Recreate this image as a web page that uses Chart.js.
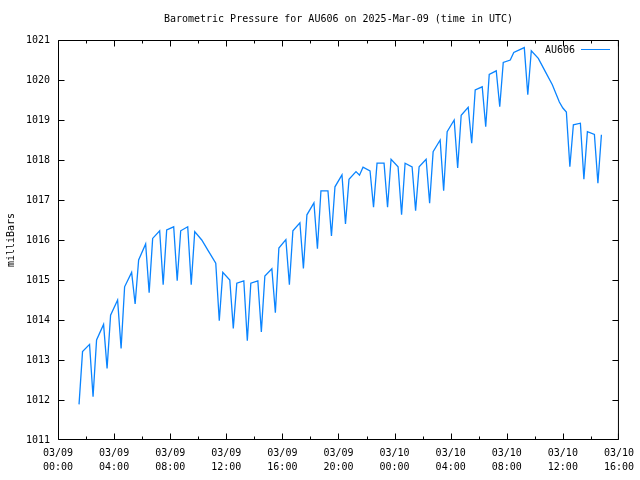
<!DOCTYPE html>
<html>
<head>
<meta charset="utf-8">
<title>Barometric Pressure AU606</title>
<script src="https://cdn.jsdelivr.net/npm/chart.js@4.4.1/dist/chart.umd.min.js"></script>
<style>
  html, body { margin: 0; padding: 0; background: #fff; }
  #wrap { width: 640px; height: 480px; }
</style>
</head>
<body>
<div id="wrap"><canvas id="pressureChart" width="640" height="480"></canvas></div>
<script>
// ─── DATA ─────────────────────────────────────────────────
// hours since 03/09 00:00 UTC
const hours = [
  1.5, 1.75, 2.25, 2.5, 2.75, 3.25, 3.5, 3.75, 4.25, 4.5, 4.75, 5.25, 5.5, 5.75,
  6.25, 6.5, 6.75, 7.25, 7.5, 7.75, 8.25, 8.5, 8.75, 9.25, 9.5, 9.75, 10.25, 10.75,
  11.25, 11.5, 11.75, 12.25, 12.5, 12.75, 13.25, 13.5, 13.75, 14.25, 14.5, 14.75,
  15.25, 15.5, 15.75, 16.25, 16.5, 16.75, 17.25, 17.5, 17.75, 18.25, 18.5, 18.75,
  19.25, 19.5, 19.75, 20.25, 20.5, 20.75, 21.25, 21.5, 21.75, 22.25, 22.5, 22.75,
  23.25, 23.5, 23.75, 24.25, 24.5, 24.75, 25.25, 25.5, 25.75, 26.25, 26.5, 26.75,
  27.25, 27.5, 27.75, 28.25, 28.5, 28.75, 29.25, 29.5, 29.75, 30.25, 30.5, 30.75,
  31.25, 31.5, 31.75, 32.25, 32.5, 33.25, 33.5, 33.75, 34.25, 34.75, 35.25, 35.75,
  36.0, 36.25, 36.5, 36.75, 37.25, 37.5, 37.75, 38.25, 38.5, 38.75
];

// milliBars
const pressure = [
  1011.89, 1013.21, 1013.39, 1012.08, 1013.50, 1013.89, 1012.79, 1014.12, 1014.50, 1013.29, 1014.83, 1015.19, 1014.40, 1015.50,
  1015.90, 1014.68, 1016.04, 1016.23, 1014.88, 1016.25, 1016.33, 1014.98, 1016.23, 1016.33, 1014.88, 1016.21, 1016.00, 1015.71,
  1015.42, 1013.98, 1015.19, 1015.00, 1013.79, 1014.92, 1014.98, 1013.48, 1014.92, 1014.98, 1013.70, 1015.10,
  1015.28, 1014.18, 1015.80, 1016.01, 1014.88, 1016.23, 1016.43, 1015.29, 1016.63, 1016.93, 1015.78, 1017.23,
  1017.23, 1016.10, 1017.33, 1017.63, 1016.40, 1017.52, 1017.71, 1017.62, 1017.82, 1017.73, 1016.82, 1017.92,
  1017.92, 1016.82, 1018.02, 1017.83, 1016.63, 1017.92, 1017.83, 1016.73, 1017.83, 1018.02, 1016.92, 1018.21,
  1018.50, 1017.23, 1018.71, 1019.00, 1017.80, 1019.12, 1019.32, 1018.42, 1019.75, 1019.83, 1018.83, 1020.14,
  1020.23, 1019.33, 1020.44, 1020.50, 1020.69, 1020.81, 1019.63, 1020.73, 1020.54, 1020.21, 1019.88, 1019.45,
  1019.30, 1019.20, 1017.83, 1018.88, 1018.92, 1017.52, 1018.71, 1018.64, 1017.42, 1018.63
];

// x tick marks every 2 h, labelled every 4 h
const minorHours = [0, 2, 4, 6, 8, 10, 12, 14, 16, 18, 20, 22, 24, 26, 28, 30, 32, 34, 36, 38, 40];
const majorHours = [0, 4, 8, 12, 16, 20, 24, 28, 32, 36, 40];
const dayLabels  = ['03/09', '03/09', '03/09', '03/09', '03/09', '03/09', '03/10', '03/10', '03/10', '03/10', '03/10'];
const timeLabels = ['00:00', '04:00', '08:00', '12:00', '16:00', '20:00', '00:00', '04:00', '08:00', '12:00', '16:00'];
const yTicks = [1011, 1012, 1013, 1014, 1015, 1016, 1017, 1018, 1019, 1020, 1021];

const TITLE = 'Barometric Pressure for AU606 on 2025-Mar-09 (time in UTC)';
const FONT = "'DejaVu Sans Mono', 'Liberation Mono', monospace";
const LINE = '#0a84ff';

// ─── GNUPLOT-STYLE FRAME, TICKS, TITLE, KEY ───────────────
const gnuFrame = {
  id: 'gnuFrame',
  afterDraw(chart) {
    const { ctx, chartArea: a, scales: { x, y } } = chart;
    const clamp = (v, lo, hi) => Math.min(Math.max(v, lo), hi);
    const L = a.left + 0.5, R = a.right - 0.5, T = a.top + 0.5, B = a.bottom - 0.5;
    ctx.save();
    ctx.strokeStyle = '#000';
    ctx.lineWidth = 1;
    ctx.beginPath();
    ctx.rect(L, T, R - L, B - T);

    minorHours.forEach(h => {
      const px = clamp(Math.round(x.getPixelForValue(h)) + 0.5, L, R);
      const len = majorHours.includes(h) ? 6 : 3;
      ctx.moveTo(px, B); ctx.lineTo(px, B - len);
      ctx.moveTo(px, T); ctx.lineTo(px, T + len);
    });
    yTicks.forEach(v => {
      const py = clamp(Math.round(y.getPixelForValue(v)) + 0.5, T, B);
      ctx.moveTo(L, py); ctx.lineTo(L + 6, py);
      ctx.moveTo(R, py); ctx.lineTo(R - 6, py);
    });
    ctx.stroke();

    // title
    ctx.fillStyle = '#000';
    ctx.font = '10px ' + FONT;
    ctx.textAlign = 'center';
    ctx.textBaseline = 'middle';
    ctx.fillText(TITLE, (a.left + a.right) / 2, 19);

    // key
    const ds = chart.data.datasets[0];
    ctx.textAlign = 'right';
    ctx.fillText(ds.label, 575, 50);
    ctx.strokeStyle = ds.borderColor;
    ctx.beginPath();
    ctx.moveTo(581, 49.5); ctx.lineTo(610, 49.5);
    ctx.stroke();
    ctx.restore();
  },
};

// ─── CHART ────────────────────────────────────────────────
new Chart(document.getElementById('pressureChart'), {
  type: 'line',
  data: {
    datasets: [{
      label: 'AU606',
      data: hours.map((h, i) => ({ x: h, y: pressure[i] })),
      borderColor: LINE,
      borderWidth: 1.3,
      pointRadius: 0,
      tension: 0,
      fill: false,
    }],
  },
  options: {
    responsive: false,
    animation: false,
    devicePixelRatio: 1,
    layout: { padding: { left: 0, right: 18, top: 40, bottom: 0 } },
    plugins: {
      legend: { display: false },
      title: { display: false },
      tooltip: { enabled: false },
    },
    scales: {
      x: {
        type: 'linear',
        min: 0, max: 40,
        afterBuildTicks: s => { s.ticks = majorHours.map(v => ({ value: v })); },
        afterFit: s => { s.height = 40; },
        grid: { display: false, drawTicks: false },
        border: { display: false },
        ticks: {
          color: '#000',
          padding: 6,
          maxRotation: 0,
          autoSkip: false,
          font: { family: FONT, size: 10, lineHeight: 1.4 },
          callback: v => {
            const i = majorHours.indexOf(v);
            return i < 0 ? '' : [dayLabels[i], timeLabels[i]];
          },
        },
      },
      y: {
        min: 1011, max: 1021,
        afterBuildTicks: s => { s.ticks = yTicks.map(v => ({ value: v })); },
        afterFit: s => { s.width = 58; },
        grid: { display: false, drawTicks: false },
        border: { display: false },
        ticks: {
          color: '#000',
          padding: 8,
          font: { family: FONT, size: 10 },
          callback: v => String(v),
        },
        title: {
          display: true,
          text: 'milliBars',
          color: '#000',
          padding: { top: 5, bottom: 0 },
          font: { family: FONT, size: 10 },
        },
      },
    },
  },
  plugins: [gnuFrame],
});
</script>
</body>
</html>
